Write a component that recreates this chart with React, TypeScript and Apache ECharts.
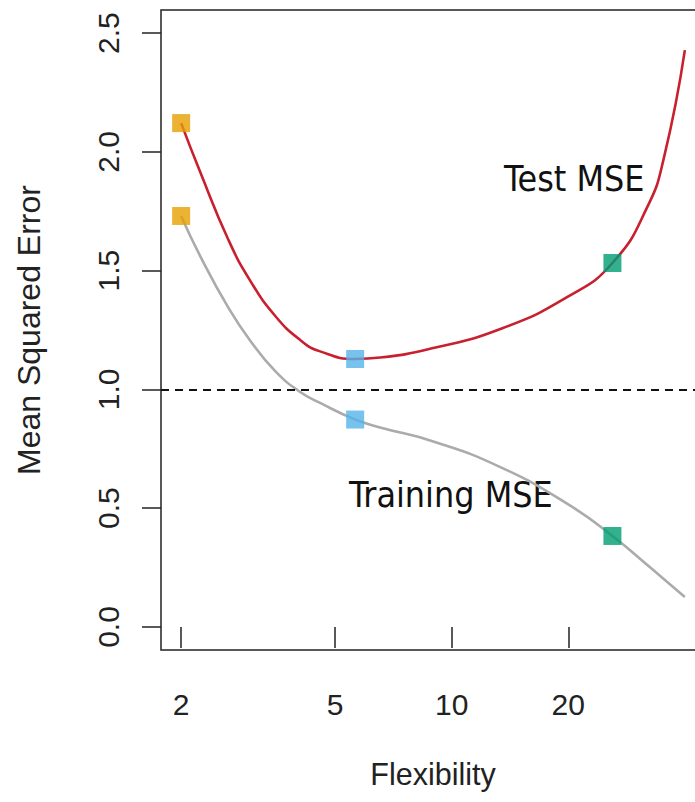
import React, { useEffect, useRef } from "react";
import * as echarts from "echarts";

// Flexibility (x) sample points along the fitted curves
const flexibility = [2, 2.24, 2.65, 3.02, 3.5, 4.06, 4.57, 5.63, 6.53, 8.96, 13.35, 19.9, 26, 32, 35.4, 40];
// Test MSE (red curve)
const testMSE = [2.121, 1.915, 1.629, 1.456, 1.309, 1.208, 1.16, 1.128, 1.134, 1.174, 1.254, 1.389, 1.532, 1.768, 1.982, 2.428];
// Training MSE (grey curve)
const trainMSE = [1.73, 1.561, 1.343, 1.204, 1.077, 0.989, 0.943, 0.873, 0.84, 0.781, 0.673, 0.518, 0.383, 0.261, 0.2, 0.126];

// Highlighted fits
const markerFlex = [2, 5.63, 26];
const markerTest = [2.121, 1.128, 1.532];
const markerTrain = [1.73, 0.873, 0.383];
const markerColors = ["#E69F00", "#56B4E9", "#009E73"];

// Axis ticks
const xTicks = [2, 5, 10, 20];
const yTicks = [0, 0.5, 1.0, 1.5, 2.0, 2.5];
const Y_MIN = -0.097;
const Y_MAX = 2.597;
const REF_LINE = 1.0;

const lg = (v: number) => Math.log10(v);

export default function App() {
  const ref = useRef<HTMLDivElement>(null);
  useEffect(() => {
    if (!ref.current) return;
    const chart = echarts.init(ref.current, null, { renderer: "svg" });
    const lo = lg(flexibility[0]);
    const hi = lg(flexibility[flexibility.length - 1]);
    const pad = 0.04 * (hi - lo);
    const axisFont = "Liberation Sans, Arial, sans-serif";
    const annFont = '"DejaVu Sans Condensed", "DejaVu Sans", sans-serif';
    const markerSeries = (vals: number[], name: string) => ({
      type: "scatter",
      name,
      symbol: "rect",
      symbolSize: 18,
      z: 5,
      data: markerFlex.map((x, i) => ({
        value: [lg(x), vals[i]],
        itemStyle: { color: markerColors[i] },
      })),
    });
    chart.setOption({
      animation: false,
      backgroundColor: "#ffffff",
      grid: {
        left: 161,
        right: -10,
        top: 10,
        bottom: 152,
        show: true,
        borderColor: "#222",
        borderWidth: 1.5,
        containLabel: false,
        outerBoundsMode: "none",
      },
      xAxis: {
        type: "value",
        min: lo - pad,
        max: hi + pad,
        name: "Flexibility",
        nameLocation: "middle",
        nameGap: 108,
        nameTextStyle: { fontSize: 30.5, color: "#222", fontFamily: axisFont },
        axisLine: { show: false },
        splitLine: { show: false },
        axisTick: {
          show: true,
          inside: false,
          length: 21,
          customValues: xTicks.map(lg),
          lineStyle: { color: "#222", width: 1.5 },
        },
        axisLabel: {
          customValues: xTicks.map(lg),
          formatter: (v: number) => String(Math.round(Math.pow(10, v))),
          fontSize: 30,
          color: "#222",
          fontFamily: axisFont,
          margin: 39,
        },
      },
      yAxis: {
        type: "value",
        min: Y_MIN,
        max: Y_MAX,
        name: "Mean Squared Error",
        nameLocation: "middle",
        nameGap: 116,
        nameTextStyle: { fontSize: 32, color: "#222", fontFamily: axisFont },
        axisLine: { show: false },
        splitLine: { show: false },
        axisTick: {
          show: true,
          inside: false,
          length: 19,
          customValues: yTicks,
          lineStyle: { color: "#222", width: 1.5 },
        },
        axisLabel: {
          customValues: yTicks,
          formatter: (v: number) => v.toFixed(1),
          rotate: 90,
          fontSize: 30,
          color: "#222",
          fontFamily: axisFont,
          margin: 38,
        },
      },
      series: [
        {
          type: "line",
          name: "Training MSE",
          data: flexibility.map((x, i) => [lg(x), trainMSE[i]]),
          smooth: 0.5,
          showSymbol: false,
          lineStyle: { color: "#ABABAB", width: 2.6 },
          markLine: {
            silent: true,
            symbol: "none",
            label: { show: false },
            lineStyle: { color: "#111", width: 1.8, type: [8, 6] },
            data: [{ yAxis: REF_LINE }],
          },
        },
        {
          type: "line",
          name: "Test MSE",
          data: flexibility.map((x, i) => [lg(x), testMSE[i]]),
          smooth: 0.5,
          showSymbol: false,
          lineStyle: { color: "#C8202F", width: 2.6 },
        },
        markerSeries(markerTest, "Test markers"),
        markerSeries(markerTrain, "Training markers"),
      ],
      graphic: [
        {
          type: "text",
          x: 504,
          y: 178,
          style: {
            text: "Test MSE",
            font: `35.5px ${annFont}`,
            fill: "#111",
            align: "left",
            verticalAlign: "middle",
          },
        },
        {
          type: "text",
          x: 349,
          y: 494,
          style: {
            text: "Training MSE",
            font: `35.5px ${annFont}`,
            fill: "#111",
            align: "left",
            verticalAlign: "middle",
          },
        },
      ],
    });
    return () => chart.dispose();
  }, []);
  return (
    <div
      ref={ref}
      style={{ position: "fixed", left: 0, top: 0, width: 695, height: 802 }}
    />
  );
}
